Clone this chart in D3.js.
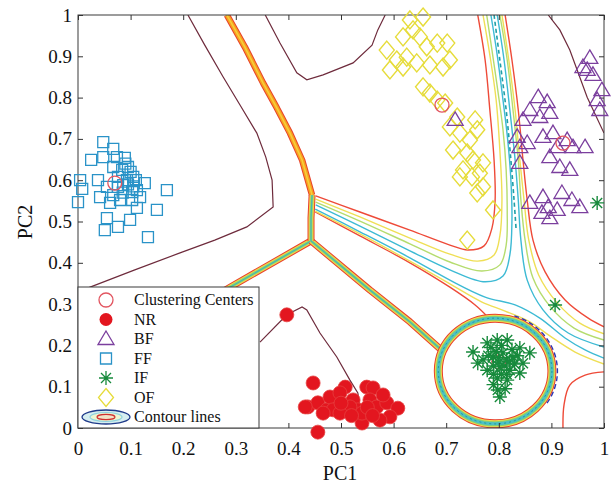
<!DOCTYPE html>
<html>
<head>
<meta charset="utf-8">
<script src="https://cdnjs.cloudflare.com/ajax/libs/d3/7.8.5/d3.min.js"></script>
<style>
  body { margin: 0; background: #fff; }
  text { font-family: "Liberation Serif", "Times New Roman", serif; fill: #111; }
</style>
</head>
<body>
<div id="chart"></div>
<script>
// axis ticks
const tickValues = [0, 0.1, 0.2, 0.3, 0.4, 0.5, 0.6, 0.7, 0.8, 0.9, 1];
const tickLabels = ["0", "0.1", "0.2", "0.3", "0.4", "0.5", "0.6", "0.7", "0.8", "0.9", "1"];

// samples [PC1, PC2]
const nrPoints = [
  [0.397, 0.274], [0.447, 0.109], [0.437, 0.051], [0.456, 0.061], [0.473, 0.044],
  [0.492, 0.075], [0.508, 0.099], [0.523, 0.068], [0.532, 0.044], [0.549, 0.099],
  [0.561, 0.097], [0.555, 0.068], [0.568, 0.051], [0.587, 0.061], [0.608, 0.048],
  [0.593, 0.027], [0.574, 0.019], [0.540, 0.012], [0.456, -0.01], [0.479, 0.075],
  [0.498, 0.085], [0.485, 0.044], [0.466, 0.036], [0.517, 0.051], [0.432, 0.051],
  [0.498, 0.036], [0.540, 0.036], [0.520, 0.030], [0.550, 0.050], [0.580, 0.080],
  [0.500, 0.060], [0.560, 0.030]
];
const bfPoints = [
  [0.973, 0.896], [0.968, 0.867], [0.979, 0.855], [0.996, 0.818], [0.987, 0.794],
  [0.992, 0.770], [0.960, 0.874], [0.875, 0.801], [0.892, 0.789], [0.859, 0.770],
  [0.897, 0.763], [0.878, 0.753], [0.846, 0.746], [0.835, 0.705], [0.854, 0.690],
  [0.884, 0.705], [0.903, 0.714], [0.930, 0.697], [0.941, 0.680], [0.964, 0.680],
  [0.911, 0.680], [0.897, 0.656], [0.916, 0.632], [0.935, 0.625], [0.840, 0.680],
  [0.840, 0.642], [0.859, 0.545], [0.884, 0.559], [0.894, 0.535], [0.920, 0.569],
  [0.939, 0.552], [0.954, 0.535], [0.911, 0.528], [0.882, 0.521], [0.897, 0.508],
  [0.717, 0.746]
];
const ffPoints = [
  [0.048, 0.692], [0.025, 0.649], [0.067, 0.676], [0.074, 0.656], [0.089, 0.654],
  [0.048, 0.656], [0.004, 0.600], [0.000, 0.547], [0.008, 0.579], [0.038, 0.600],
  [0.042, 0.559], [0.055, 0.584], [0.061, 0.545], [0.076, 0.584], [0.093, 0.600],
  [0.105, 0.608], [0.112, 0.576], [0.127, 0.593], [0.118, 0.559], [0.112, 0.533],
  [0.103, 0.552], [0.080, 0.552], [0.169, 0.576], [0.150, 0.528], [0.055, 0.508],
  [0.051, 0.479], [0.076, 0.487], [0.099, 0.504], [0.133, 0.462], [0.067, 0.632],
  [0.084, 0.625], [0.095, 0.632], [0.076, 0.608], [0.086, 0.588], [0.067, 0.564],
  [0.103, 0.571], [0.090, 0.640], [0.100, 0.620], [0.085, 0.570], [0.095, 0.590],
  [0.105, 0.585], [0.110, 0.600]
];
const ifPoints = [
  [0.751, 0.184], [0.778, 0.206], [0.797, 0.213], [0.816, 0.213], [0.840, 0.194],
  [0.859, 0.182], [0.770, 0.165], [0.789, 0.172], [0.808, 0.182], [0.827, 0.172],
  [0.846, 0.157], [0.778, 0.140], [0.802, 0.148], [0.821, 0.140], [0.840, 0.133],
  [0.797, 0.121], [0.816, 0.116], [0.798, 0.092], [0.802, 0.075], [0.760, 0.157],
  [0.800, 0.160], [0.810, 0.150], [0.790, 0.150], [0.815, 0.165], [0.805, 0.130],
  [0.795, 0.185], [0.785, 0.195], [0.805, 0.200], [0.825, 0.190], [0.830, 0.155],
  [0.815, 0.130], [0.790, 0.130], [0.780, 0.175], [0.812, 0.095], [0.790, 0.105],
  [0.835, 0.175], [0.800, 0.170], [0.820, 0.160], [0.907, 0.298], [0.987, 0.545]
];
const ofPoints = [
  [0.631, 0.988], [0.656, 0.995], [0.618, 0.947], [0.637, 0.964], [0.650, 0.947],
  [0.587, 0.915], [0.606, 0.891], [0.625, 0.898], [0.663, 0.923], [0.683, 0.932],
  [0.702, 0.932], [0.593, 0.867], [0.618, 0.874], [0.644, 0.884], [0.669, 0.879],
  [0.694, 0.874], [0.707, 0.891], [0.656, 0.826], [0.669, 0.811], [0.683, 0.794],
  [0.698, 0.787], [0.721, 0.753], [0.755, 0.746], [0.707, 0.729], [0.726, 0.714],
  [0.745, 0.697], [0.759, 0.722], [0.713, 0.673], [0.740, 0.666], [0.751, 0.649],
  [0.770, 0.642], [0.732, 0.625], [0.749, 0.608], [0.764, 0.617], [0.770, 0.584],
  [0.759, 0.569], [0.789, 0.528], [0.740, 0.455], [0.726, 0.608]
];
const centerPoints = [[0.070, 0.593], [0.692, 0.782], [0.922, 0.690], [0.520, 0.060], [0.800, 0.160]];

// outer (dark) contour
const brownLines = [
  [[0.209, 1.0], [0.241, 0.927], [0.276, 0.850], [0.308, 0.782], [0.340, 0.714], [0.357, 0.656],
   [0.369, 0.600], [0.371, 0.535], [0.321, 0.487], [0.260, 0.455], [0.194, 0.424], [0.108, 0.383],
   [0.023, 0.341], [0.0, 0.329]],
  [[0.356, 1.0], [0.384, 0.932], [0.416, 0.860], [0.435, 0.843], [0.466, 0.855], [0.523, 0.884],
   [0.559, 0.927], [0.570, 0.964], [0.584, 1.0]],
  [[0.894, 1.0], [0.916, 0.964], [0.935, 0.915], [0.968, 0.801], [1.0, 0.714]],
  [[0.346, 0.208], [0.397, 0.274], [0.426, 0.293], [0.435, 0.286], [0.460, 0.230], [0.492, 0.172],
   [0.517, 0.116], [0.532, 0.085], [0.542, 0.0]]
];

// class boundaries (thick bands)
const bandTopLeft = [[0.283, 1.0], [0.317, 0.923], [0.352, 0.835], [0.378, 0.775], [0.403, 0.714], [0.426, 0.649], [0.445, 0.564]];
const bandJoin = [[0.445, 0.564], [0.443, 0.508], [0.443, 0.453]];
const bandLowerLeft = [[0.443, 0.453], [0.289, 0.341], [0.232, 0.298]];
const bandToRing = [[0.443, 0.453], [0.555, 0.334], [0.631, 0.257], [0.690, 0.190]];
const ifRingCenter = [0.793, 0.138];
const ifRingRadius = [0.108, 0.128];
const ifArcAngles = [-72, 35];

// contour fan round the saddle
const fanLines = [
  {c: "#ee4a38", p: [[0.452, 0.562], [0.536, 0.523], [0.631, 0.479], [0.707, 0.443], [0.741, 0.431], [0.772, 0.441], [0.787, 0.484], [0.793, 0.552], [0.791, 0.649], [0.783, 0.770], [0.774, 0.891], [0.760, 1.0]]},
  {c: "#efdf55", p: [[0.452, 0.554], [0.536, 0.511], [0.631, 0.460], [0.707, 0.421], [0.760, 0.404], [0.791, 0.419], [0.802, 0.465], [0.806, 0.552], [0.802, 0.673], [0.795, 0.794], [0.783, 0.903], [0.770, 1.0]]},
  {c: "#b5dc6e", p: [[0.452, 0.547], [0.536, 0.501], [0.631, 0.446], [0.707, 0.402], [0.768, 0.380], [0.802, 0.395], [0.814, 0.443], [0.816, 0.528], [0.814, 0.625], [0.808, 0.722], [0.798, 0.818], [0.787, 0.915], [0.777, 1.0]]},
  {c: "#3dbad4", p: [[0.452, 0.540], [0.536, 0.489], [0.631, 0.429], [0.707, 0.383], [0.774, 0.354], [0.808, 0.368], [0.821, 0.419], [0.825, 0.504], [0.823, 0.600], [0.817, 0.697], [0.808, 0.794], [0.797, 0.903], [0.785, 1.0]]},
  {c: "#ee4a38", p: [[0.812, 1.0], [0.825, 0.891], [0.837, 0.770], [0.846, 0.649], [0.854, 0.552], [0.865, 0.455], [0.888, 0.378], [0.926, 0.310], [0.970, 0.266], [1.0, 0.245]]},
  {c: "#efdf55", p: [[0.806, 1.0], [0.819, 0.891], [0.831, 0.770], [0.840, 0.649], [0.848, 0.552], [0.857, 0.455], [0.876, 0.370], [0.911, 0.303], [0.954, 0.254], [1.0, 0.228]]},
  {c: "#b5dc6e", p: [[0.802, 1.0], [0.816, 0.891], [0.827, 0.770], [0.837, 0.649], [0.842, 0.552], [0.850, 0.455], [0.865, 0.363], [0.897, 0.295], [0.943, 0.242], [1.0, 0.213]]},
  {c: "#3dbad4", p: [[0.797, 1.0], [0.810, 0.891], [0.821, 0.770], [0.831, 0.649], [0.837, 0.552], [0.842, 0.455], [0.854, 0.358], [0.884, 0.286], [0.932, 0.230], [1.0, 0.196]]},
  {c: "#ee4a38", p: [[0.451, 0.523], [0.536, 0.465], [0.631, 0.400], [0.707, 0.341], [0.755, 0.298], [0.779, 0.269]]},
  {c: "#efdf55", p: [[0.451, 0.525], [0.536, 0.470], [0.631, 0.404], [0.707, 0.349], [0.768, 0.305], [0.812, 0.283], [0.859, 0.257], [0.897, 0.223], [0.945, 0.184], [1.0, 0.155]]},
  {c: "#3dbad4", p: [[0.451, 0.530], [0.536, 0.475], [0.631, 0.412], [0.707, 0.358], [0.774, 0.317], [0.831, 0.298], [0.878, 0.266], [0.926, 0.218], [0.964, 0.189], [1.0, 0.169]]},
  {c: "#ee4a38", p: [[1.0, 0.136], [0.964, 0.128], [0.935, 0.104], [0.924, 0.056], [0.922, 0.0]]}
];
const fanCenter = [[0.791, 1.0], [0.802, 0.891], [0.814, 0.770], [0.823, 0.649], [0.829, 0.552], [0.833, 0.479]];

const legendItems = ["Clustering Centers", "NR", "BF", "FF", "IF", "OF", "Contour lines"];

const margin = {top: 15, right: 11, bottom: 57, left: 78},
  fWidth = 615, fHeight = 485,
  width = fWidth - margin.left - margin.right,
  height = fHeight - margin.top - margin.bottom;

const svg = d3.select("#chart").append("svg")
  .attr("width", fWidth)
  .attr("height", fHeight);

const canvas = svg.append("g")
  .attr("transform", `translate(${margin.left}, ${margin.top})`);

const xScale = d3.scaleLinear().domain([0, 1]).range([0, width]);
const yScale = d3.scaleLinear().domain([0, 1]).range([height, 0]);

svg.append("defs").append("clipPath").attr("id", "plot-clip")
  .append("rect").attr("width", width).attr("height", height);

const lines = canvas.append("g").attr("clip-path", "url(#plot-clip)");

const rough = d3.line().x(d => xScale(d[0])).y(d => yScale(d[1]));
const smooth = d3.line().x(d => xScale(d[0])).y(d => yScale(d[1])).curve(d3.curveCatmullRom.alpha(0.5));

brownLines.forEach(p => {
  lines.append("path").attr("d", rough(p))
    .attr("fill", "none").attr("stroke", "#6e2b3c").attr("stroke-width", 1.2);
});

fanLines.forEach(l => {
  lines.append("path").attr("d", smooth(l.p))
    .attr("fill", "none").attr("stroke", l.c).attr("stroke-width", 1.4);
});
lines.append("path").attr("d", smooth(fanCenter))
  .attr("fill", "none").attr("stroke", "#1f9fa6").attr("stroke-width", 1.6)
  .attr("stroke-dasharray", "4,3");

const orangeBand = [["#e8412c", 6.5], ["#f6a21f", 4.5], ["#f7cf3c", 1.5]];
const greenBand = [["#e8412c", 7], ["#f1d54a", 5], ["#98d46a", 3], ["#3fb9b6", 1.2]];

function drawBand(points, layers) {
  layers.forEach(l => {
    lines.append("path").attr("d", rough(points))
      .attr("fill", "none").attr("stroke", l[0]).attr("stroke-width", l[1])
      .attr("stroke-linejoin", "round");
  });
}
drawBand(bandTopLeft, orangeBand);
drawBand(bandLowerLeft, greenBand);
drawBand(bandToRing, greenBand);
drawBand(bandJoin, greenBand);

const ringCx = xScale(ifRingCenter[0]), ringCy = yScale(ifRingCenter[1]);
const ringRx = xScale(ifRingRadius[0]) - xScale(0), ringRy = yScale(0) - yScale(ifRingRadius[1]);
[["#e8412c", 9], ["#efd84e", 7], ["#8fd06a", 5], ["#4cc1c4", 3], ["#1f9c9a", 1]].forEach((l, i) => {
  lines.append("ellipse")
    .attr("cx", ringCx).attr("cy", ringCy).attr("rx", ringRx).attr("ry", ringRy)
    .attr("fill", "none").attr("stroke", l[0]).attr("stroke-width", l[1])
    .attr("stroke-dasharray", i === 4 ? "2,3" : null);
});
const arc = d3.path();
arc.arc(0, 0, ringRx + 5.5, ifArcAngles[0] * Math.PI / 180, ifArcAngles[1] * Math.PI / 180);
lines.append("path").attr("d", arc.toString())
  .attr("transform", `translate(${ringCx}, ${ringCy}) scale(1, ${ringRy / ringRx})`)
  .attr("vector-effect", "non-scaling-stroke")
  .attr("fill", "none").attr("stroke", "#2b36b0").attr("stroke-width", 1.4)
  .attr("stroke-dasharray", "5,3");

// frame and axes
canvas.append("rect").attr("width", width).attr("height", height)
  .attr("fill", "none").attr("stroke", "#3a3a3a").attr("stroke-width", 1);

const fmt = (d, i) => tickLabels[i];
function styleAxis(g) {
  g.select(".domain").remove();
  g.selectAll("line").attr("stroke", "#333");
  g.selectAll("text").style("font-size", "19px").attr("fill", "#111");
}
canvas.append("g").attr("transform", `translate(0, ${height})`)
  .call(d3.axisBottom(xScale).tickValues(tickValues).tickFormat(fmt).tickSizeInner(-5).tickSizeOuter(0).tickPadding(14))
  .call(styleAxis);
canvas.append("g")
  .call(d3.axisTop(xScale).tickValues(tickValues).tickFormat("").tickSizeInner(-5).tickSizeOuter(0))
  .call(styleAxis);
canvas.append("g")
  .call(d3.axisLeft(yScale).tickValues(tickValues).tickFormat(fmt).tickSizeInner(-5).tickSizeOuter(0).tickPadding(6))
  .call(styleAxis);
canvas.append("g").attr("transform", `translate(${width}, 0)`)
  .call(d3.axisRight(yScale).tickValues(tickValues).tickFormat("").tickSizeInner(-5).tickSizeOuter(0))
  .call(styleAxis);

svg.append("text").attr("x", 340).attr("y", 480).attr("text-anchor", "middle")
  .style("font-size", "20px").text("PC1");
svg.append("text").attr("transform", "translate(32, 222) rotate(-90)").attr("text-anchor", "middle")
  .style("font-size", "20px").text("PC2");

// markers
const shapes = {
  tri: "M0,-8L8,5.5L-8,5.5Z",
  sq: "M-5.5,-5.5h11v11h-11z",
  dia: "M0,-9L7.5,0L0,9L-7.5,0Z",
  ast: "M-7,0H7M0,-7V7M-5,-5L5,5M-5,5L5,-5"
};
function drawShape(g, data, shape, color, width) {
  g.selectAll(null).data(data).enter().append("path")
    .attr("transform", d => `translate(${xScale(d[0])}, ${yScale(d[1])})`)
    .attr("d", shapes[shape])
    .attr("fill", "none").attr("stroke", color).attr("stroke-width", width);
}
const marks = canvas.append("g");
drawShape(marks, ofPoints, "dia", "#e6dc3a", 1.4);
drawShape(marks, ffPoints, "sq", "#2a93c8", 1.3);
drawShape(marks, bfPoints, "tri", "#7b3f9e", 1.3);
marks.selectAll(".center").data(centerPoints).enter().append("circle")
  .classed("center", true)
  .attr("cx", d => xScale(d[0])).attr("cy", d => yScale(d[1])).attr("r", 7)
  .attr("fill", "none").attr("stroke", "#e25560").attr("stroke-width", 1.3);
marks.selectAll(".nr").data(nrPoints).enter().append("circle")
  .classed("nr", true)
  .attr("cx", d => xScale(d[0])).attr("cy", d => yScale(d[1])).attr("r", 7)
  .attr("fill", "#e3161f").attr("stroke", "#e64040").attr("stroke-width", 0.8);
drawShape(marks, ifPoints, "ast", "#178a3c", 1.4);

// legend
const legend = svg.append("g").attr("transform", "translate(78, 287)");
legend.append("rect").attr("width", 181).attr("height", 141)
  .attr("fill", "#fff").attr("stroke", "#3a3a3a").attr("stroke-width", 1);
const rowY = d3.scalePoint().domain(legendItems).range([13, 130]);
legendItems.forEach(name => {
  legend.append("text").attr("x", 56).attr("y", rowY(name) + 5)
    .style("font-size", "16px").text(name);
});
const sx = 28;
legend.append("circle").attr("cx", sx).attr("cy", rowY("Clustering Centers")).attr("r", 7)
  .attr("fill", "none").attr("stroke", "#e25560").attr("stroke-width", 1.3);
legend.append("circle").attr("cx", sx).attr("cy", rowY("NR")).attr("r", 6.5).attr("fill", "#e3161f");
[["BF", "tri", "#7b3f9e"], ["FF", "sq", "#2a93c8"], ["IF", "ast", "#178a3c"], ["OF", "dia", "#e6dc3a"]].forEach(s => {
  legend.append("path").attr("transform", `translate(${sx}, ${rowY(s[0])})`)
    .attr("d", shapes[s[1]]).attr("fill", "none").attr("stroke", s[2]).attr("stroke-width", 1.3);
});
const cy = rowY("Contour lines");
legend.append("ellipse").attr("cx", sx).attr("cy", cy).attr("rx", 24).attr("ry", 7)
  .attr("fill", "#d6eef0").attr("stroke", "#1f3a8a").attr("stroke-width", 1.3);
legend.append("ellipse").attr("cx", sx).attr("cy", cy).attr("rx", 16).attr("ry", 4.5)
  .attr("fill", "#eef5cf").attr("stroke", "#8fd3df").attr("stroke-width", 1.2);
legend.append("ellipse").attr("cx", sx).attr("cy", cy).attr("rx", 9).attr("ry", 2.6)
  .attr("fill", "#f3e3c6").attr("stroke", "#d0302f").attr("stroke-width", 1.2);
</script>
</body>
</html>
